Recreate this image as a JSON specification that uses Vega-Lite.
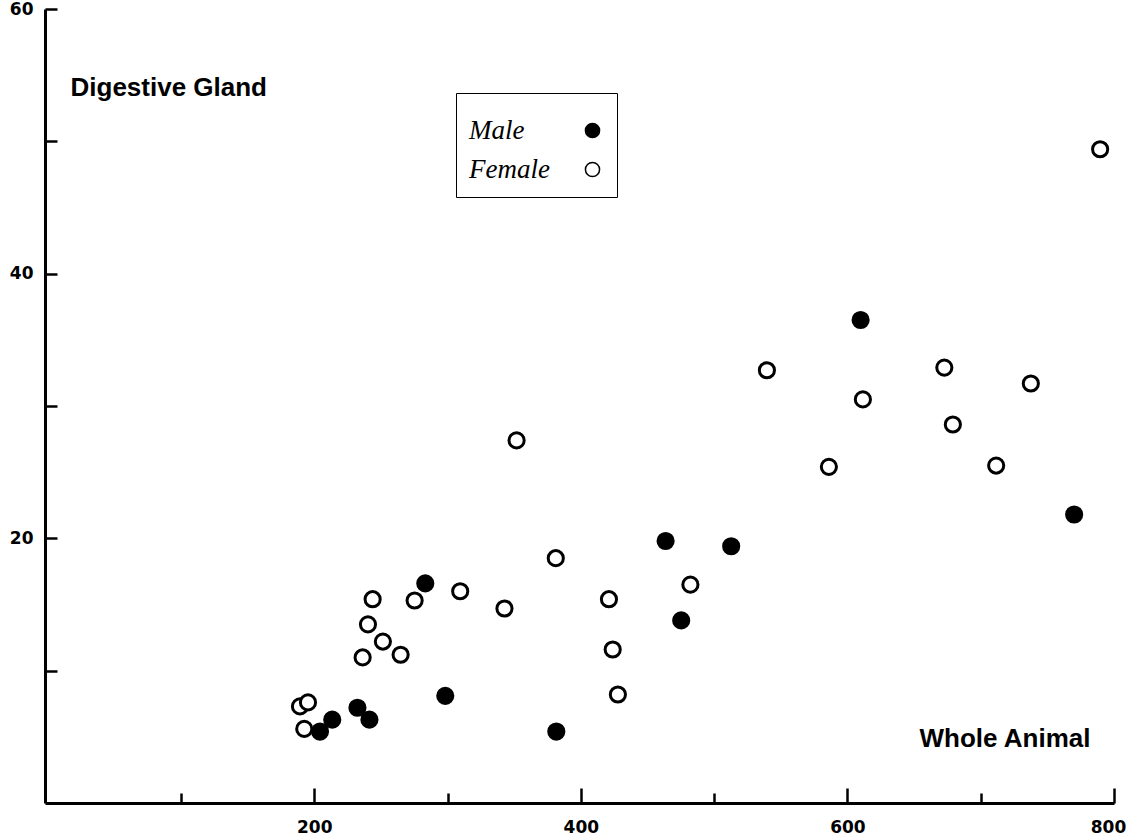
{
  "$schema": "https://vega.github.io/schema/vega-lite/v6.json",
  "width": 1069,
  "height": 794,
  "autosize": {"type": "none"},
  "padding": {"left": 45, "top": 9, "right": 12, "bottom": 33},
  "background": "white",
  "config": {
    "view": {"stroke": null},
    "axis": {
      "grid": false,
      "domainColor": "black",
      "domainWidth": 3,
      "tickColor": "black",
      "tickWidth": 2.5,
      "labelColor": "black",
      "labelFont": "DejaVu Sans",
      "labelFontWeight": "bold",
      "labelFontSize": 17,
      "titleColor": "black",
      "titleFont": "Liberation Sans",
      "titleFontWeight": "bold",
      "titleFontSize": 26
    }
  },
  "data": {
    "values": [
      {"whole": 789.6, "gland": 49.4, "sex": "Female"},
      {"whole": 539.6, "gland": 32.7, "sex": "Female"},
      {"whole": 672.7, "gland": 32.9, "sex": "Female"},
      {"whole": 737.6, "gland": 31.7, "sex": "Female"},
      {"whole": 611.6, "gland": 30.5, "sex": "Female"},
      {"whole": 679.1, "gland": 28.6, "sex": "Female"},
      {"whole": 351.8, "gland": 27.4, "sex": "Female"},
      {"whole": 586.1, "gland": 25.4, "sex": "Female"},
      {"whole": 711.6, "gland": 25.5, "sex": "Female"},
      {"whole": 381.2, "gland": 18.5, "sex": "Female"},
      {"whole": 482.2, "gland": 16.5, "sex": "Female"},
      {"whole": 309.5, "gland": 16.0, "sex": "Female"},
      {"whole": 243.8, "gland": 15.4, "sex": "Female"},
      {"whole": 275.3, "gland": 15.3, "sex": "Female"},
      {"whole": 342.7, "gland": 14.7, "sex": "Female"},
      {"whole": 421.1, "gland": 15.4, "sex": "Female"},
      {"whole": 240.3, "gland": 13.5, "sex": "Female"},
      {"whole": 251.5, "gland": 12.2, "sex": "Female"},
      {"whole": 236.3, "gland": 11.0, "sex": "Female"},
      {"whole": 264.8, "gland": 11.2, "sex": "Female"},
      {"whole": 423.9, "gland": 11.6, "sex": "Female"},
      {"whole": 427.8, "gland": 8.2, "sex": "Female"},
      {"whole": 189.3, "gland": 7.3, "sex": "Female"},
      {"whole": 195.3, "gland": 7.6, "sex": "Female"},
      {"whole": 192.5, "gland": 5.6, "sex": "Female"},
      {"whole": 609.9, "gland": 36.5, "sex": "Male"},
      {"whole": 770.1, "gland": 21.8, "sex": "Male"},
      {"whole": 463.6, "gland": 19.8, "sex": "Male"},
      {"whole": 512.8, "gland": 19.4, "sex": "Male"},
      {"whole": 475.3, "gland": 13.8, "sex": "Male"},
      {"whole": 283.3, "gland": 16.6, "sex": "Male"},
      {"whole": 298.3, "gland": 8.1, "sex": "Male"},
      {"whole": 381.6, "gland": 5.4, "sex": "Male"},
      {"whole": 204.3, "gland": 5.4, "sex": "Male"},
      {"whole": 213.5, "gland": 6.3, "sex": "Male"},
      {"whole": 232.4, "gland": 7.2, "sex": "Male"},
      {"whole": 241.4, "gland": 6.3, "sex": "Male"}
    ]
  },
  "mark": {"type": "point", "shape": "circle", "filled": true, "stroke": "black", "strokeWidth": 3, "size": 230, "opacity": 1},
  "encoding": {
    "x": {
      "field": "whole",
      "type": "quantitative",
      "scale": {"domain": [-2, 800], "nice": false, "zero": false},
      "axis": {
        "values": [100, 200, 300, 400, 500, 600, 700, 800],
        "labelExpr": "datum.value % 200 === 0 ? datum.label : ''",
        "tickSize": {"condition": {"test": "datum.value % 200 === 0", "value": -15}, "value": -10},
        "labelOffset": {"condition": {"test": "datum.value === 800", "value": -6}, "value": 0},
        "labelPadding": 31,
        "labelFlush": false,
        "title": "Whole Animal",
        "titleX": 1045,
        "titleY": -57,
        "titleAlign": "right",
        "titleBaseline": "alphabetic",
        "titleAnchor": null
      }
    },
    "y": {
      "field": "gland",
      "type": "quantitative",
      "scale": {"domain": [0, 60], "nice": false},
      "axis": {
        "values": [10, 20, 30, 40, 50, 60],
        "labelExpr": "datum.value % 20 === 0 ? datum.label : ''",
        "tickSize": -12,
        "labelPadding": 24,
        "labelFlush": false,
        "title": "Digestive Gland",
        "titleAngle": 0,
        "titleX": 25,
        "titleY": 86,
        "titleAlign": "left",
        "titleBaseline": "alphabetic",
        "titleAnchor": null
      }
    },
    "fill": {
      "field": "sex",
      "type": "nominal",
      "scale": {"domain": ["Male", "Female"], "range": ["black", "white"]},
      "legend": {
        "title": " ",
        "titleFontSize": 10,
        "titlePadding": 0,
        "orient": "none",
        "legendX": 411,
        "legendY": 84,
        "strokeColor": "black",
        "fillColor": "white",
        "padding": 14,
        "labelFont": "Liberation Serif",
        "labelFontStyle": "italic",
        "labelFontSize": 27,
        "labelColor": "black",
        "symbolType": "circle",
        "symbolSize": 200,
        "symbolStrokeColor": "black",
        "symbolStrokeWidth": 1.5,
        "symbolOffset": 109,
        "labelOffset": -137,
        "rowPadding": 11,
        "encode": {"legend": {"update": {"strokeWidth": {"value": 1.5}}}}
      }
    }
  }
}
